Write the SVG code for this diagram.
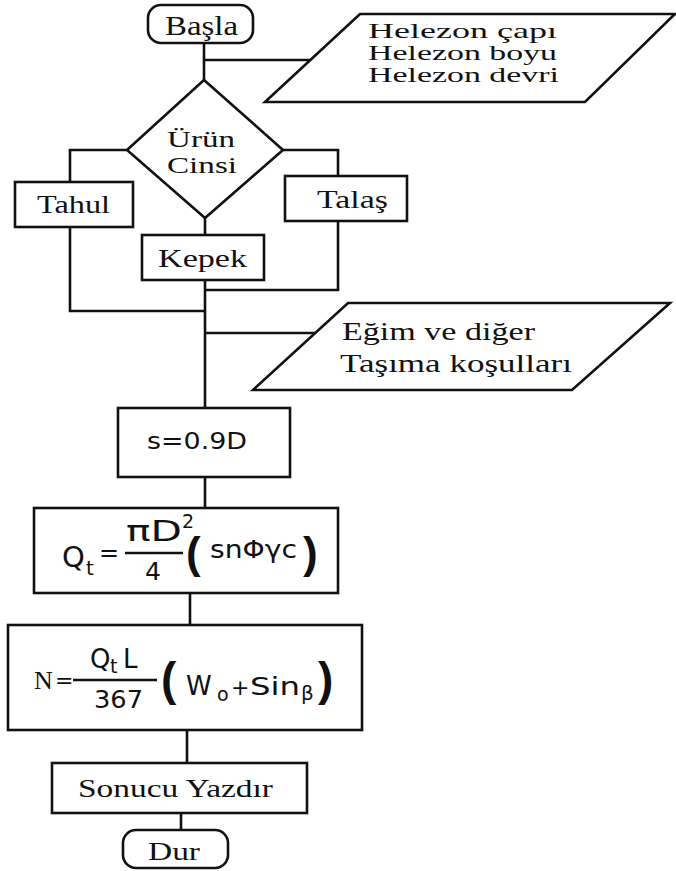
<svg xmlns="http://www.w3.org/2000/svg" width="676" height="871" viewBox="0 0 676 871">
<style>
.s{fill:#fff;stroke:#111;stroke-width:2.6}
.c{fill:none;stroke:#111;stroke-width:2.6}
.t{font-family:"Liberation Serif","DejaVu Serif",serif;fill:#111}
.m{font-family:"DejaVu Sans","Liberation Sans",sans-serif;fill:#111}
.p{font-family:"Liberation Sans",sans-serif;font-weight:bold;fill:#111}
</style>
<rect width="676" height="871" fill="#fff"/>
<g id="connectors">
<path class="c" d="M204,43 V80 M204,60 H310"/>
<path class="c" d="M127,150 H70 V182 M283,150 H338 V176 M205,218 V235"/>
<path class="c" d="M70,227 V311 H205 M338,221 V290 H205 M205,280 V408 M205,333 H315"/>
<path class="c" d="M205,477 V508 M190,593 V625 M187,730 V763 M181,813 V830"/>
</g>
<g id="start">
<rect class="s" x="148" y="5" width="105" height="38" rx="13"/>
<text class="t" x="165" y="35" font-size="27" textLength="73" lengthAdjust="spacingAndGlyphs">Başla</text>
</g>
<g id="input1">
<polygon class="s" points="360,14 675,14 585,102 265,102"/>
<text class="t" x="368" y="38" font-size="22" textLength="189" lengthAdjust="spacingAndGlyphs">Helezon çapı</text>
<text class="t" x="368" y="60" font-size="22" textLength="189" lengthAdjust="spacingAndGlyphs">Helezon boyu</text>
<text class="t" x="368" y="82" font-size="22" textLength="191" lengthAdjust="spacingAndGlyphs">Helezon devri</text>
</g>
<g id="decision">
<polygon class="s" points="204,80 283,150 205,218 127,150"/>
<text class="t" x="167" y="147" font-size="24" textLength="68" lengthAdjust="spacingAndGlyphs">Ürün</text>
<text class="t" x="167" y="173" font-size="24" textLength="70" lengthAdjust="spacingAndGlyphs">Cinsi</text>
</g>
<g id="tahul">
<rect class="s" x="15" y="182" width="118" height="45"/>
<text class="t" x="37" y="213" font-size="25" textLength="73" lengthAdjust="spacingAndGlyphs">Tahul</text>
</g>
<g id="talas">
<rect class="s" x="285" y="176" width="122" height="45"/>
<text class="t" x="317" y="208" font-size="25" textLength="71" lengthAdjust="spacingAndGlyphs">Talaş</text>
</g>
<g id="kepek">
<rect class="s" x="142" y="235" width="122" height="45"/>
<text class="t" x="158" y="267" font-size="25" textLength="89" lengthAdjust="spacingAndGlyphs">Kepek</text>
</g>
<g id="input2">
<polygon class="s" points="348,303 670,303 572,390 253,390"/>
<text class="t" x="342" y="340" font-size="25" textLength="193" lengthAdjust="spacingAndGlyphs">Eğim ve diğer</text>
<text class="t" x="340" y="372" font-size="25" textLength="232" lengthAdjust="spacingAndGlyphs">Taşıma koşulları</text>
</g>
<g id="pitch">
<rect class="s" x="118" y="408" width="172" height="69"/>
<text class="m" x="147" y="449" font-size="23" textLength="100" lengthAdjust="spacingAndGlyphs">s=0.9D</text>
</g>
<g id="capacity">
<rect class="s" x="34" y="508" width="304" height="85"/>
<text class="m" x="62" y="567" font-size="29">Q</text>
<text class="m" x="86" y="575" font-size="20">t</text>
<text class="m" x="99" y="561" font-size="24">=</text>
<line class="c" x1="125" y1="553" x2="183" y2="553" stroke-width="2"/>
<text class="m" x="126" y="541" font-size="28" textLength="56" lengthAdjust="spacingAndGlyphs">πD</text>
<text class="m" x="182" y="528" font-size="19">2</text>
<text class="m" x="145" y="580" font-size="25">4</text>
<text class="p" x="186" y="568" font-size="44">(</text>
<text class="m" x="210" y="558" font-size="25" textLength="87" lengthAdjust="spacingAndGlyphs">snΦγc</text>
<text class="p" x="303" y="568" font-size="44">)</text>
</g>
<g id="power">
<rect class="s" x="8" y="625" width="354" height="105"/>
<text class="t" x="34" y="689" font-size="26">N</text>
<text class="m" x="55" y="688" font-size="22">=</text>
<line class="c" x1="73" y1="680" x2="157" y2="680" stroke-width="2"/>
<text class="m" x="90" y="668" font-size="26">Q</text>
<text class="m" x="110" y="673" font-size="19">t</text>
<text class="m" x="123" y="668" font-size="26">L</text>
<text class="m" x="94" y="708" font-size="25" textLength="49" lengthAdjust="spacingAndGlyphs">367</text>
<text class="p" x="161" y="695" font-size="46">(</text>
<text class="m" x="186" y="695" font-size="26">W</text>
<text class="m" x="217" y="701" font-size="19">o</text>
<text class="m" x="231" y="695" font-size="22">+</text>
<text class="m" x="250" y="695" font-size="25" textLength="50" lengthAdjust="spacingAndGlyphs">Sin</text>
<text class="m" x="301" y="700" font-size="20">β</text>
<text class="p" x="318" y="695" font-size="46">)</text>
</g>
<g id="output">
<rect class="s" x="52" y="763" width="255" height="50"/>
<text class="t" x="78" y="797" font-size="25" textLength="195" lengthAdjust="spacingAndGlyphs">Sonucu Yazdır</text>
</g>
<g id="end">
<rect class="s" x="123" y="830" width="105" height="38" rx="13"/>
<text class="t" x="148" y="860" font-size="26" textLength="52" lengthAdjust="spacingAndGlyphs">Dur</text>
</g>
</svg>
